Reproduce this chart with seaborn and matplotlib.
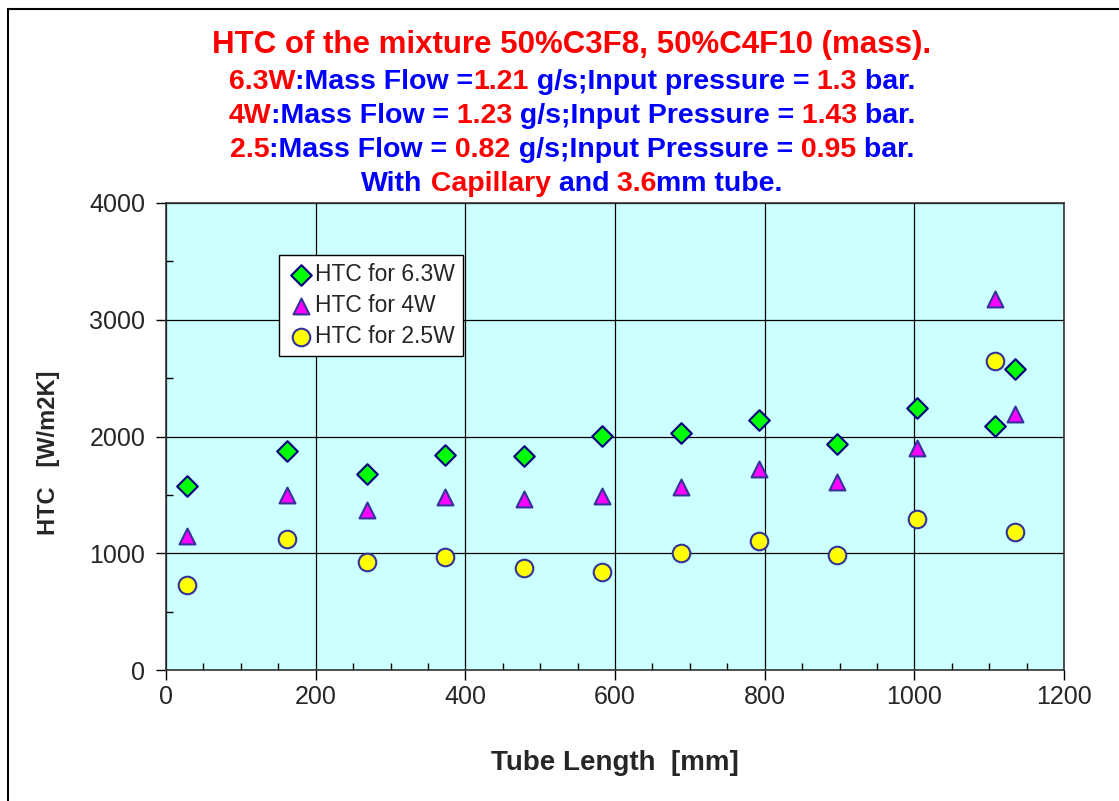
import matplotlib
matplotlib.use("Agg")
import matplotlib.pyplot as plt
import seaborn as sns
import pandas as pd
from matplotlib.offsetbox import TextArea, HPacker, AnchoredOffsetbox
from matplotlib.patches import Rectangle
from matplotlib.ticker import MultipleLocator

# tube length positions [mm]
tube_length = [28, 162, 268, 373, 478, 582, 688, 792, 897, 1003, 1108, 1135]

# HTC values [W/m2K]
htc_63w = [1576, 1873, 1682, 1839, 1833, 2004, 2027, 2141, 1936, 2241, 2090, 2575]
htc_4w = [1148, 1499, 1370, 1485, 1462, 1490, 1565, 1719, 1610, 1904, 3178, 2190]
htc_25w = [725, 1125, 928, 968, 871, 842, 1005, 1108, 988, 1291, 2644, 1180]

series_names = ["HTC for 6.3W", "HTC for 4W", "HTC for 2.5W"]

RED = "#FF0000"
BLUE = "#0000FF"

title_lines = [
    [("HTC of the mixture 50%C3F8, 50%C4F10 (mass).", RED)],
    [("6.3W", RED), (":Mass Flow =", BLUE), ("1.21", RED),
     (" g/s;Input pressure =", BLUE), (" 1.3", RED), (" bar.", BLUE)],
    [("4W", RED), (":Mass Flow =", BLUE), (" 1.23", RED),
     (" g/s;Input Pressure =", BLUE), (" 1.43", RED), (" bar.", BLUE)],
    [("2.5", RED), (":Mass Flow =", BLUE), (" 0.82", RED),
     (" g/s;Input Pressure =", BLUE), (" 0.95", RED), (" bar.", BLUE)],
    [("With", BLUE), (" Capillary", RED), (" and", BLUE), (" 3.6", RED),
     ("mm tube.", BLUE)],
]


def colored_line(fig, parts, y, size):
    """Draw one centred title line made of differently coloured pieces."""
    areas = [TextArea(t, textprops=dict(color=c, fontsize=size, fontweight="bold"))
             for t, c in parts]
    box = HPacker(children=areas, align="baseline", pad=0, sep=0)
    anchored = AnchoredOffsetbox(loc="center", child=box, pad=0, borderpad=0,
                                 frameon=False, bbox_to_anchor=(572 / 1119, y),
                                 bbox_transform=fig.transFigure)
    fig.add_artist(anchored)


def main():
    sns.set_style("ticks")
    plt.rcParams["font.family"] = ["Liberation Sans", "DejaVu Sans"]

    data = pd.DataFrame({
        "length": tube_length * 3,
        "htc": htc_63w + htc_4w + htc_25w,
        "series": [n for n in series_names for _ in tube_length],
    })

    fig = plt.figure(figsize=(11.19, 8.01), dpi=100)
    ax = fig.add_axes([166 / 1119, 1 - 670 / 801, 898 / 1119, 467 / 801])
    ax.set_facecolor("#CCFFFF")

    styles = {
        "HTC for 6.3W": dict(marker="D", color="#00FF00", edgecolor="#000080", s=110),
        "HTC for 4W": dict(marker="^", color="#FF00FF", edgecolor="#333399", s=130),
        "HTC for 2.5W": dict(marker="o", color="#FFFF00", edgecolor="#333399", s=160),
    }
    for name in series_names:
        sub = data[data["series"] == name]
        sns.scatterplot(data=sub, x="length", y="htc", ax=ax, label=name,
                        linewidth=1.5, zorder=3, **styles[name])

    ax.set_xlim(0, 1200)
    ax.set_ylim(0, 4000)
    ax.xaxis.set_major_locator(MultipleLocator(200))
    ax.xaxis.set_minor_locator(MultipleLocator(50))
    ax.yaxis.set_major_locator(MultipleLocator(1000))
    ax.yaxis.set_minor_locator(MultipleLocator(500))
    ax.tick_params(which="major", direction="out", length=7, width=1,
                   labelsize=18, pad=4, color="black")
    ax.tick_params(axis="y", which="major", pad=8)
    ax.tick_params(which="minor", direction="in", length=5, width=1, color="black")
    ax.grid(True, which="major", color="black", linewidth=0.9)
    ax.set_axisbelow(True)
    for sp in ax.spines.values():
        sp.set_color("#333333")
        sp.set_linewidth(1.2)

    ax.set_xlabel("Tube Length  [mm]", fontsize=20, fontweight="bold", labelpad=29)
    ax.set_ylabel("HTC   [W/m2K]", fontsize=17, fontweight="bold")
    ax.yaxis.set_label_coords(-106 / 898, 0.465)

    leg = ax.legend(loc="upper left", bbox_to_anchor=(0.126, 0.889), fontsize=16.5,
                    frameon=True, fancybox=False, framealpha=1, edgecolor="black",
                    handletextpad=0.0, borderpad=0.35, labelspacing=0.35,
                    handlelength=1.2, borderaxespad=0)
    leg.get_frame().set_linewidth(1.0)

    ys = [45, 82, 116, 150, 184]
    sizes = [22.5, 20.5, 20.5, 20.5, 20.5]
    for parts, y, size in zip(title_lines, ys, sizes):
        colored_line(fig, parts, 1 - y / 801, size)

    # outer frame of the chart area
    fig.add_artist(Rectangle((8 / 1119, -0.1), 1.2, 1.1 - 9 / 801, fill=False,
                             edgecolor="black", linewidth=1.5,
                             transform=fig.transFigure))

    fig.savefig("out.png", dpi=100)
    plt.close(fig)


if __name__ == "__main__":
    main()
